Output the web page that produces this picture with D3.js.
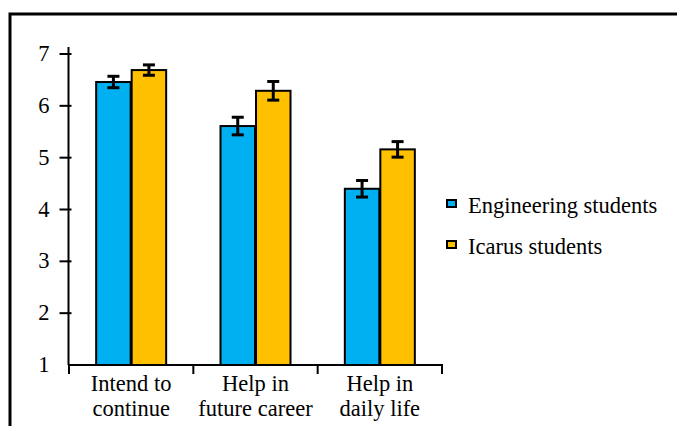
<!DOCTYPE html>
<html>
<head>
<meta charset="utf-8">
<script src="https://cdn.jsdelivr.net/npm/d3@7"></script>
<style>
  html, body { margin: 0; padding: 0; background: #fff; }
  svg { display: block; }
</style>
</head>
<body>
<svg id="chart" width="677" height="426"></svg>
<script>
// Survey categories (two-line labels) and mean ratings with error margins
const categories = ["Intend to continue", "Help in future career", "Help in daily life"];
const categoryLines = [["Intend to", "continue"], ["Help in", "future career"], ["Help in", "daily life"]];
const seriesNames = ["Engineering students", "Icarus students"];
const engineeringMeans = [6.46, 5.61, 4.40];
const engineeringErr = [0.11, 0.17, 0.16];
const icarusMeans = [6.69, 6.29, 5.16];
const icarusErr = [0.10, 0.18, 0.15];
const yTicks = [1, 2, 3, 4, 5, 6, 7];
const colors = ["#00b0f0", "#ffc000"];

const FONT = "'Liberation Serif', 'Times New Roman', serif";
const FS = 22.5;

const svg = d3.select("#chart");

// outer frame
svg.append("rect")
  .attr("x", 10).attr("y", 14)
  .attr("width", 700).attr("height", 450)
  .attr("fill", "none").attr("stroke", "#000").attr("stroke-width", 3);

const x0 = d3.scaleBand().domain(categories).range([69, 442]);
const y = d3.scaleLinear().domain([1, 7]).range([365, 54]);

const barW = 34, gap = 2;
const series = [
  { name: seriesNames[0], means: engineeringMeans, errs: engineeringErr, color: colors[0] },
  { name: seriesNames[1], means: icarusMeans, errs: icarusErr, color: colors[1] }
];
const x1 = d3.scaleBand().domain(seriesNames)
  .range([-(barW + gap / 2), barW + gap / 2])
  .paddingInner(gap / (barW * 2 + gap));
const cx0 = (c) => x0(c) + x0.bandwidth() / 2;

// bars
series.forEach((s) => {
  svg.append("g").selectAll("rect").data(categories).join("rect")
    .attr("x", (c) => cx0(c) + x1(s.name))
    .attr("y", (c, i) => y(s.means[i]))
    .attr("width", x1.bandwidth())
    .attr("height", (c, i) => y(1) - y(s.means[i]))
    .attr("fill", s.color)
    .attr("stroke", "#000").attr("stroke-width", 2);
});

// error bars
series.forEach((s) => {
  categories.forEach((c, i) => {
    const cx = cx0(c) + x1(s.name) + x1.bandwidth() / 2;
    const top = y(s.means[i] + s.errs[i]);
    const bot = y(s.means[i] - s.errs[i]);
    const eg = svg.append("g").attr("stroke", "#000").attr("stroke-width", 3);
    eg.append("line").attr("x1", cx).attr("x2", cx).attr("y1", top).attr("y2", bot);
    eg.append("line").attr("x1", cx - 6).attr("x2", cx + 6).attr("y1", top).attr("y2", top);
    eg.append("line").attr("x1", cx - 6).attr("x2", cx + 6).attr("y1", bot).attr("y2", bot);
  });
});

// y axis
const yAxis = svg.append("g").attr("transform", "translate(68.5,0)");
yAxis.append("line").attr("x1", 0).attr("x2", 0).attr("y1", 47).attr("y2", y(1))
  .attr("stroke", "#000").attr("stroke-width", 2);
yAxis.selectAll("line.tick").data(yTicks.filter(d => d > 1)).join("line")
  .attr("class", "tick")
  .attr("x1", -9).attr("x2", 3)
  .attr("y1", d => y(d)).attr("y2", d => y(d))
  .attr("stroke", "#000").attr("stroke-width", 2);
yAxis.selectAll("text").data(yTicks).join("text")
  .attr("x", -19).attr("y", d => y(d) + 7)
  .attr("text-anchor", "end")
  .attr("font-family", FONT)
  .attr("font-size", FS)
  .text(d => d);

// x axis
const xAxis = svg.append("g");
xAxis.append("line").attr("x1", 68).attr("x2", 443).attr("y1", y(1)).attr("y2", y(1))
  .attr("stroke", "#000").attr("stroke-width", 2);
const bounds = categories.map(c => x0(c)).concat([x0(categories[2]) + x0.bandwidth()]);
xAxis.selectAll("line.tick").data(bounds).join("line")
  .attr("class", "tick")
  .attr("x1", d => d).attr("x2", d => d)
  .attr("y1", y(1)).attr("y2", y(1) + 9)
  .attr("stroke", "#000").attr("stroke-width", 2);
categories.forEach((c, i) => {
  const t = xAxis.append("text")
    .attr("text-anchor", "middle")
    .attr("font-family", FONT)
    .attr("font-size", FS);
  categoryLines[i].forEach((ln, j) => {
    t.append("tspan").attr("x", cx0(c)).attr("y", 391 + j * 25).text(ln);
  });
});

// legend
const legend = svg.append("g");
series.forEach((s, i) => {
  const ly = 203.5 + i * 41;
  legend.append("rect")
    .attr("x", 447).attr("y", ly - 3.5)
    .attr("width", 9).attr("height", 7)
    .attr("fill", s.color).attr("stroke", "#000").attr("stroke-width", 2);
  legend.append("text")
    .attr("x", 468).attr("y", ly + 9.5)
    .attr("font-family", FONT)
    .attr("font-size", FS)
    .text(s.name);
});
</script>
</body>
</html>
